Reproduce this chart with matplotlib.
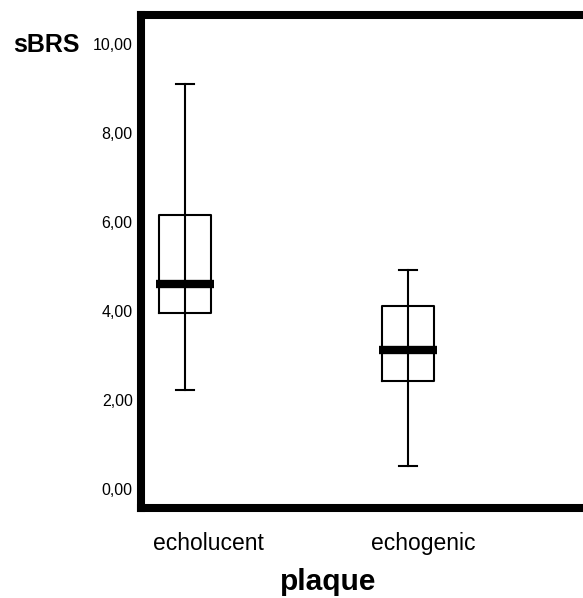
import matplotlib
matplotlib.use("Agg")
from matplotlib import pyplot as plt

plt.rcParams['font.family'] = ['Liberation Sans', 'DejaVu Sans']

# values
groups = ['echolucent', 'echogenic']
whislo = [2.22, 0.52]
q1 = [3.96, 2.43]
med = [4.61, 3.12]
q3 = [6.16, 4.11]
whishi = [9.10, 4.92]
yticks = [0, 2, 4, 6, 8, 10]
ytick_labels = ['0,00', '2,00', '4,00', '6,00', '8,00', '10,00']

stats = []
for i, g in enumerate(groups):
    stats.append(dict(label=g, whislo=whislo[i], q1=q1[i], med=med[i],
                      q3=q3[i], whishi=whishi[i], fliers=[]))

fig = plt.figure(figsize=(5.83, 5.98), dpi=100)
ax = fig.add_axes([0.2419, 0.1505, 1.012 - 0.2419, 0.975 - 0.1505])

pos = [1, 2]
ax.bxp(stats, positions=pos, widths=0.23, showfliers=False,
       boxprops=dict(color='black', linewidth=1.5),
       whiskerprops=dict(color='black', linewidth=1.5),
       capprops=dict(color='black', linewidth=1.5),
       medianprops=dict(linewidth=0),
       capwidths=0.078)
# whisker line runs through the box as in the SPSS output
ax.vlines(pos, q1, q3, color='black', linewidth=1.5, zorder=1)
# thick median bar, a bit wider than the box
ax.hlines(med, [p - 0.13 for p in pos], [p + 0.13 for p in pos],
          color='black', linewidth=6)

ax.set_xlim(0.803, 2.816)
ax.set_ylim(-0.43, 10.65)

ax.set_yticks(yticks)
ax.set_yticklabels(ytick_labels, fontsize=11.5)
ax.set_xticks([1.103, 2.067])
ax.set_xticklabels(groups, fontsize=16.5)
ax.tick_params(axis='both', length=0)
ax.tick_params(axis='y', pad=6)
ax.tick_params(axis='x', pad=17)

for s in ax.spines.values():
    s.set_linewidth(5.8)

fig.text(0.022, 0.925, 'sBRS', fontsize=18, fontweight='bold',
         ha='left', va='center')
fig.text(0.563, 0.027, 'plaque', fontsize=21.5, fontweight='bold',
         ha='center', va='center')

plt.savefig('out.png')
plt.close()
